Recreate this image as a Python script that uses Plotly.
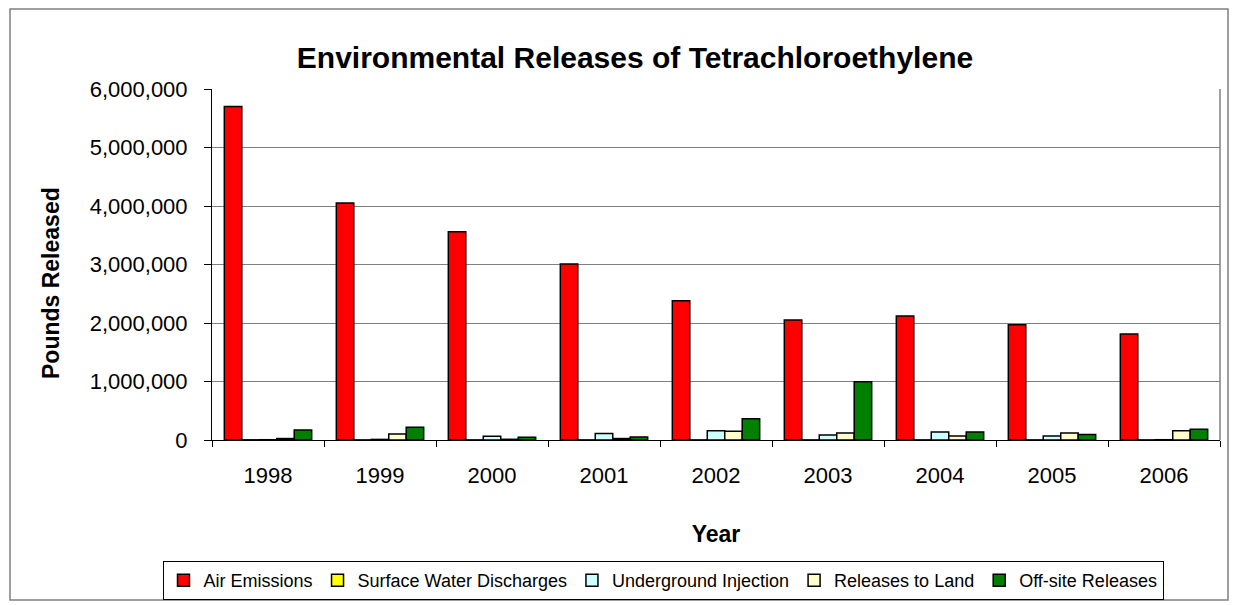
import plotly.graph_objects as go

years = ["1998", "1999", "2000", "2001", "2002", "2003", "2004", "2005", "2006"]
air_emissions = [5700000, 4050000, 3560000, 3010000, 2380000, 2050000, 2120000, 1970000, 1810000]
surface_water = [3000, 2000, 2000, 2000, 2000, 2000, 2000, 2000, 2000]
underground = [5000, 10000, 64000, 110000, 160000, 86000, 138000, 69000, 5000]
land = [25000, 103000, 12000, 25000, 150000, 120000, 69000, 120000, 160000]
offsite = [172000, 219000, 47000, 52000, 362000, 995000, 138000, 95000, 185000]

series = [
    ("Air Emissions", air_emissions, "#FF0000"),
    ("Surface Water Discharges", surface_water, "#FFFF00"),
    ("Underground Injection", underground, "#CCFFFF"),
    ("Releases to Land", land, "#FFFFCC"),
    ("Off-site Releases", offsite, "#008000"),
]

fig = go.Figure()
for name, vals, color in series:
    fig.add_trace(go.Bar(
        x=years, y=vals, name=name,
        marker=dict(color=color, line=dict(color="black", width=1.5)),
    ))

W, H = 1238, 605
L, R, T, B = 212, 18, 89, 165
pw, ph = W - L - R, H - T - B

def px(x):
    return (x - L) / pw

def py(y):
    return (H - B - y) / ph

fig.update_layout(
    width=W, height=H,
    margin=dict(l=L, r=R, t=T, b=B, pad=0, autoexpand=False),
    paper_bgcolor="white", plot_bgcolor="white",
    font=dict(family="Arial, Liberation Sans, sans-serif", color="black"),
    barmode="group", bargap=0.22, bargroupgap=0,
    title=dict(text="<b>Environmental Releases of Tetrachloroethylene</b>",
               x=635 / W, xanchor="center", y=1 - 57 / H, yanchor="middle",
               font=dict(size=30)),
    xaxis=dict(
        title=dict(text="<b>Year</b>", font=dict(size=23), standoff=38),
        tickfont=dict(size=22), showline=True, linecolor="black", linewidth=1,
        ticks="outside", ticklen=6, tickcolor="black", mirror=False,
        tickson="boundaries", ticklabelstandoff=16,
    ),
    yaxis=dict(
        tickfont=dict(size=22), range=[0, 6000000], dtick=1000000,
        tickformat=",d", showline=True, linecolor="black", linewidth=1,
        ticks="outside", ticklen=7, tickcolor="black", ticklabelstandoff=12,
        showgrid=True, gridcolor="#808080", gridwidth=1.2, zeroline=False,
    ),
    legend=dict(
        orientation="h", xref="container", yref="container",
        x=663 / W, xanchor="center", y=1 - 561 / H, yanchor="top",
        bordercolor="black", borderwidth=1, font=dict(size=18),
        itemwidth=30, traceorder="normal",
    ),
    annotations=[
        dict(text="<b>Pounds Released</b>", textangle=-90, showarrow=False,
             xref="paper", yref="paper", x=px(51), y=py(283),
             xanchor="center", yanchor="middle", font=dict(size=23)),
    ],
    shapes=[
        dict(type="rect", xref="paper", yref="paper",
             x0=px(10), x1=px(1228), y0=py(600), y1=py(9),
             line=dict(color="#808080", width=1.5), layer="below"),
        dict(type="line", xref="paper", yref="paper",
             x0=1, x1=1, y0=0, y1=1, line=dict(color="#808080", width=1.5)),
    ],
)

fig.write_html("out.html", config={"displayModeBar": False},
               post_script="document.body.style.margin='0';")
